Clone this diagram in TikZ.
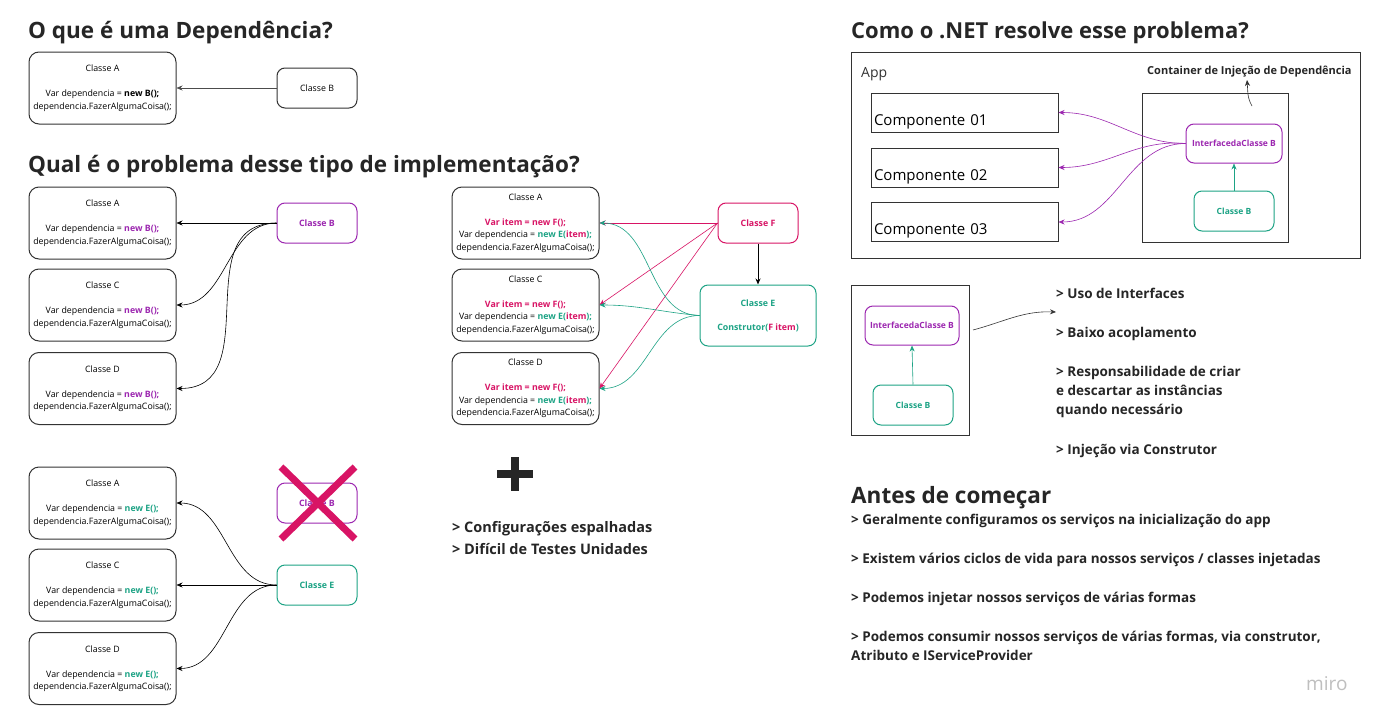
\documentclass[tikz,border=0pt]{standalone}
\usepackage{fontspec}
\setmainfont{Open Sans}
\usetikzlibrary{arrows.meta}
\definecolor{roxo}{HTML}{9C27B0}
\definecolor{verde}{HTML}{1DA385}
\definecolor{rosa}{HTML}{D81465}
\definecolor{borda}{HTML}{333333}

\begin{document}
\begin{tikzpicture}[x=1pt,y=-1pt,
    classbox/.style={draw=borda,line width=1pt,rounded corners=10pt,minimum width=147pt,minimum height=72pt,inner sep=0pt,align=center,font=\fontsize{8.8}{12.5}\selectfont},
    smallbox/.style={draw,line width=1pt,rounded corners=8pt,minimum width=80pt,minimum height=40pt,inner sep=0pt,align=center,font=\fontsize{8.8}{11}\selectfont\bfseries},
    compbox/.style={draw=borda,line width=1pt,text width=181pt,text height=29pt,text depth=4pt,inner sep=3pt,align=left,font=\fontsize{15}{17}\selectfont},
    titulo/.style={anchor=base west,inner sep=0pt,font=\fontsize{22.5}{26}\selectfont\bfseries,text=black!85},
    lista/.style={anchor=base west,inner sep=0pt,align=left,font=\fontsize{13.5}{19.3}\selectfont\bfseries,text=black!85},
    arr/.style={-{Stealth[length=6pt,width=5pt]},line width=0.6pt}]

\useasboundingbox[fill=white] (0,0) rectangle (1382,723);

% titulos
\node[titulo] (t1) at (28,38) {O que é uma Dependência?};
\node[titulo] (t2) at (28,172) {Qual é o problema desse tipo de implementação?};
\node[titulo,font=\fontsize{22}{26}\selectfont\bfseries] (t3) at (851,38) {Como o .NET resolve esse problema?};
\node[titulo] (t4) at (851,503) {Antes de começar};

% o que e uma dependencia
\node[classbox] (a0) at (102.5,88) {Classe A\\ \\ Var dependencia = \textbf{new B();}\\ dependencia.FazerAlgumaCoisa();};
\node[smallbox,draw=borda,font=\fontsize{8.8}{11}\selectfont] (b0) at (317,88) {Classe B};
\draw[arr,black!70] (b0.west) -- (a0.east);

% problema, coluna 1
\node[classbox] (a1) at (102.5,223) {Classe A\\ \\ Var dependencia = \textcolor{roxo}{\textbf{new B();}}\\ dependencia.FazerAlgumaCoisa();};
\node[classbox] (c1) at (102.5,305) {Classe C\\ \\ Var dependencia = \textcolor{roxo}{\textbf{new B();}}\\ dependencia.FazerAlgumaCoisa();};
\node[classbox] (d1) at (102.5,388.5) {Classe D\\ \\ Var dependencia = \textcolor{roxo}{\textbf{new B();}}\\ dependencia.FazerAlgumaCoisa();};
\node[smallbox,draw=roxo,text=roxo] (b1) at (317,223) {Classe B};
\draw[arr] (b1.west) -- (a1.east);
\draw[arr] (b1.west) to[out=180,in=0] (c1.east);
\draw[arr] (b1.west) to[out=180,in=0,looseness=1.2] (d1.east);

% problema, coluna 2
\node[classbox] (a2) at (525.5,223) {Classe A\\ \\ \textcolor{rosa}{\textbf{Var item = new F();}}\\ Var dependencia = \textcolor{verde}{\textbf{new E(}}\textcolor{rosa}{\textbf{item}}\textcolor{verde}{\textbf{);}}\\ dependencia.FazerAlgumaCoisa();};
\node[classbox] (c2) at (525.5,305) {Classe C\\ \\ \textcolor{rosa}{\textbf{Var item = new F();}}\\ Var dependencia = \textcolor{verde}{\textbf{new E(}}\textcolor{rosa}{\textbf{item}}\textcolor{verde}{\textbf{);}}\\ dependencia.FazerAlgumaCoisa();};
\node[classbox] (d2) at (525.5,388.5) {Classe D\\ \\ \textcolor{rosa}{\textbf{Var item = new F();}}\\ Var dependencia = \textcolor{verde}{\textbf{new E(}}\textcolor{rosa}{\textbf{item}}\textcolor{verde}{\textbf{);}}\\ dependencia.FazerAlgumaCoisa();};
\node[smallbox,draw=rosa,text=rosa] (f2) at (758,223) {Classe F};
\node[smallbox,draw=verde,text=verde,minimum width=116pt,minimum height=61pt,font=\fontsize{8.8}{12}\selectfont\bfseries] (e2) at (758,315.5) {Classe E\\ \\ Construtor(\textcolor{rosa}{F item})};
\draw[arr,line width=1pt] (f2.south) -- (e2.north);
\draw[arr,rosa] (f2.west) -- (a2.east);
\draw[arr,rosa] (f2.west) -- (c2.east);
\draw[arr,rosa] (f2.west) -- (d2.east);
\draw[arr,verde] (e2.west) to[out=180,in=0] (a2.east);
\draw[arr,verde] (e2.west) to[out=175,in=0] (c2.east);
\draw[arr,verde] (e2.west) to[out=180,in=0] (d2.east);

% problema, coluna 3
\node[classbox] (a3) at (102.5,503) {Classe A\\ \\ Var dependencia = \textcolor{verde}{\textbf{new E();}}\\ dependencia.FazerAlgumaCoisa();};
\node[classbox] (c3) at (102.5,585) {Classe C\\ \\ Var dependencia = \textcolor{verde}{\textbf{new E();}}\\ dependencia.FazerAlgumaCoisa();};
\node[classbox] (d3) at (102.5,668.5) {Classe D\\ \\ Var dependencia = \textcolor{verde}{\textbf{new E();}}\\ dependencia.FazerAlgumaCoisa();};
\node[smallbox,draw=roxo,text=roxo] (b3) at (317,503) {Classe B};
\node[smallbox,draw=verde,text=verde] (e3) at (317,585) {Classe E};
\draw[rosa,line width=7pt] (b3.center) ++(-36,-36) -- ++(74,72);
\draw[rosa,line width=7pt] (b3.center) ++(38,-36) -- ++(-74,72);
\draw[arr] (e3.west) to[out=180,in=0] (a3.east);
\draw[arr] (e3.west) -- (c3.east);
\draw[arr] (e3.west) to[out=180,in=0] (d3.east);

% mais
\node[inner sep=0pt] (mais) at (515,474) {};
\fill[black!85] (mais.center) ++(-18,-4) rectangle ++(36,8);
\fill[black!85] (mais.center) ++(-4,-17) rectangle ++(8,34);
\node[lista,font=\fontsize{14.5}{22}\selectfont\bfseries] (l1) at (452,554) {> Configurações espalhadas\\> Difícil de Testes Unidades};

% como o .NET resolve
\node[draw=borda,line width=1pt,minimum width=509pt,minimum height=206pt,inner sep=0pt] (app) at (1105.5,155) {};
\node[anchor=base west,inner sep=0pt,font=\fontsize{14}{16}\selectfont,text=black!80] (applbl) at (861,77) {App};
\node[compbox] (k1) at (964.5,112.5) {Componente 01};
\node[compbox] (k2) at (964.5,167.5) {Componente 02};
\node[compbox] (k3) at (964.5,222) {Componente 03};
\node[draw=borda,line width=1pt,minimum width=146pt,minimum height=149pt,inner sep=0pt] (cont) at (1215,167.5) {};
\node[anchor=base west,inner sep=0pt,font=\fontsize{11}{13}\selectfont\bfseries,text=black!85] (contlbl) at (1147,74) {Container de Injeção de Dependência};
\node[smallbox,draw=roxo,text=roxo,minimum width=96pt,minimum height=39pt,font=\fontsize{8.5}{10}\selectfont\bfseries] (ib) at (1234,143.5) {InterfacedaClasse B};
\node[smallbox,draw=verde,text=verde,font=\fontsize{8.5}{10}\selectfont\bfseries] (cb) at (1234,211) {Classe B};
\coordinate (ctail) at (1252,106);
\draw[arr,black!80] (ctail) to[out=120,in=-85] (1247,80);
\draw[arr,verde] (cb.north) -- (ib.south);
\draw[arr,roxo] (ib.west) to[out=180,in=0] (k1.east);
\draw[arr,roxo] (ib.west) to[out=175,in=0] (k2.east);
\draw[arr,roxo] (ib.west) to[out=180,in=0] (k3.east);

% interface e classe
\node[draw=borda,line width=1pt,minimum width=118pt,minimum height=150pt,inner sep=0pt] (caixa) at (910,360) {};
\node[smallbox,draw=roxo,text=roxo,minimum width=94pt,minimum height=39pt,font=\fontsize{8.5}{10}\selectfont\bfseries] (ib2) at (912,325.5) {InterfacedaClasse B};
\node[smallbox,draw=verde,text=verde,font=\fontsize{8.5}{10}\selectfont\bfseries] (cb2) at (913,405) {Classe B};
\draw[arr,verde] (cb2.north) -- (ib2.south);
\coordinate (stail) at (973,330);
\coordinate (shead) at (1056,312);
\draw[arr,black!80] (stail) to[out=15,in=178] (shead);
\node[lista] (u1) at (1056,298) {> Uso de Interfaces};
\node[lista] (u2) at (1056,337) {> Baixo acoplamento};
\node[lista] (u3) at (1056,414.6) {> Responsabilidade de criar\\e descartar as instâncias\\quando necessário};
\node[lista] (u4) at (1056,454) {> Injeção via Construtor};

% antes de comecar
\node[lista] (v1) at (851,524) {> Geralmente configuramos os serviços na inicialização do app};
\node[lista] (v2) at (851,563) {> Existem vários ciclos de vida para nossos serviços / classes injetadas};
\node[lista] (v3) at (851,602) {> Podemos injetar nossos serviços de várias formas};
\node[lista] (v4) at (851,660.3) {> Podemos consumir nossos serviços de várias formas, via construtor,\\Atributo e IServiceProvider};
\node[anchor=base west,inner sep=0pt,font=\fontsize{19}{21}\selectfont,text=black!25] (miro) at (1306,690) {miro};
\end{tikzpicture}
\end{document}
